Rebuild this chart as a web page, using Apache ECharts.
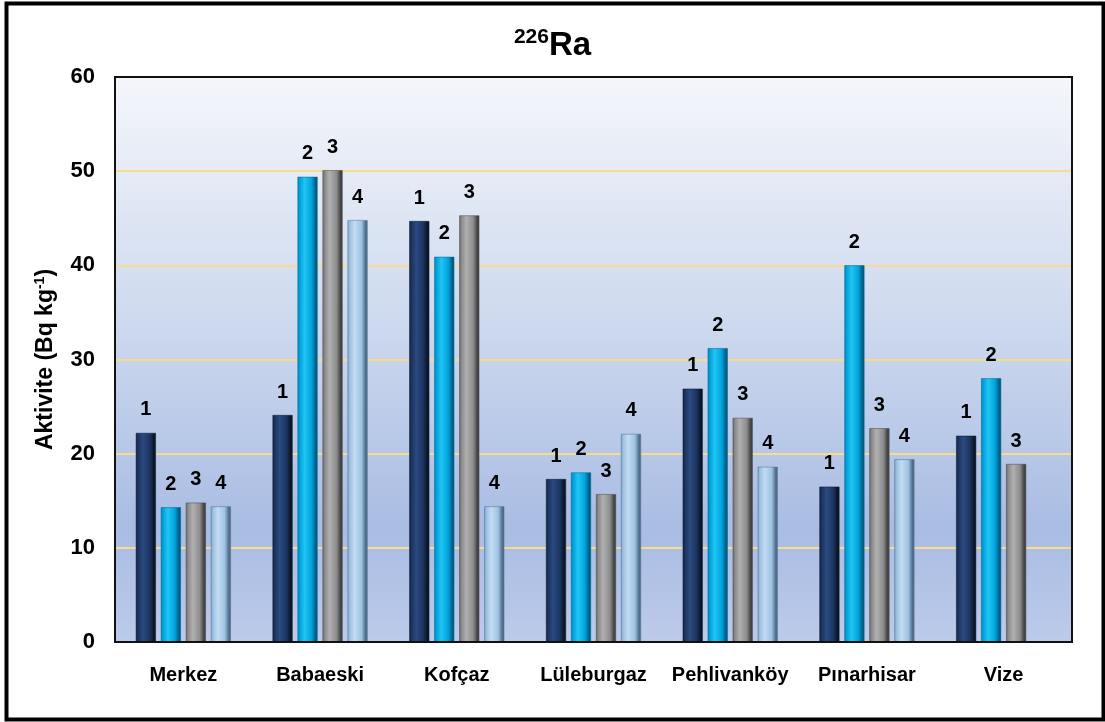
<!DOCTYPE html>
<html>
<head>
<meta charset="utf-8">
<script src="https://cdn.jsdelivr.net/npm/echarts@6/dist/echarts.min.js"></script>
<style>html,body{margin:0;padding:0;background:#fff}#c{width:1105px;height:722px}</style>
</head>
<body>
<div id="c"></div>
<script>
const categories = ['Merkez', 'Babaeski', 'Kofçaz', 'Lüleburgaz', 'Pehlivanköy', 'Pınarhisar', 'Vize'];
const s1 = [22.2, 24.1, 44.7, 17.3, 26.9, 16.5, 21.9];
const s2 = [14.3, 49.4, 40.9, 18.0, 31.2, 40.0, 28.0];
const s3 = [14.8, 50.1, 45.3, 15.7, 23.8, 22.7, 18.9];
const s4 = [14.4, 44.8, 14.4, 22.1, 18.6, 19.4, null];
const seriesNames = ['1', '2', '3', '4'];
const yTicks = [0, 10, 20, 30, 40, 50, 60];

const FONT = '"Liberation Sans", Arial, sans-serif';
const palettes = [
  ['#132544', '#2a4a80', '#1c3460', '#0b1628'],
  ['#0088c0', '#22c4f4', '#00a4dc', '#005f88'],
  ['#6a6a6a', '#b0b0b0', '#8c8c8c', '#444444'],
  ['#7fa4c8', '#c2dcf2', '#9ec2e2', '#4f6e8c']
];
function grad(p) {
  return new echarts.graphic.LinearGradient(0, 0, 1, 0, [
    {offset: 0, color: p[0]},
    {offset: 0.12, color: p[2]},
    {offset: 0.35, color: p[1]},
    {offset: 0.7, color: p[2]},
    {offset: 0.9, color: p[3]},
    {offset: 1, color: p[3]}
  ]);
}
const data = [s1, s2, s3, s4];
const series = data.map((d, i) => ({
  name: seriesNames[i],
  type: 'bar',
  data: d,
  barWidth: 20,
  barGap: '25%',
  itemStyle: {color: grad(palettes[i]), borderColor: palettes[i][3], borderWidth: 0.5},
  label: {
    show: true, position: 'top', distance: 13,
    formatter: seriesNames[i],
    fontFamily: FONT, fontWeight: 'bold', fontSize: 20, color: '#000'
  }
}));

const chart = echarts.init(document.getElementById('c'));
chart.setOption({
  animation: false,
  title: {
    text: '{s|226}{b|Ra}',
    left: 'center', top: 22,
    textStyle: {
      rich: {
        s: {fontFamily: FONT, fontWeight: 'bold', fontSize: 21, color: '#000', verticalAlign: 'top', padding: [0, 0, 14, 0]},
        b: {fontFamily: FONT, fontWeight: 'bold', fontSize: 33, color: '#000', verticalAlign: 'bottom'}
      }
    }
  },
  graphic: [
    {type: 'rect', left: 4, top: 1, shape: {width: 1097, height: 716}, style: {fill: 'none', stroke: '#000', lineWidth: 4}, z: 10},
    {type: 'rect', left: 115, top: 77, shape: {width: 957, height: 565},
      style: {fill: new echarts.graphic.LinearGradient(0, 0, 0, 1, [
        {offset: 0, color: '#f4f6fb'},
        {offset: 0.45, color: '#ccd8ee'},
        {offset: 0.8, color: '#a9bce3'},
        {offset: 1, color: '#bdcbea'}
      ])}, z: -10, silent: true},
    {type: 'rect', shape: {x: 115, y: 77, width: 957, height: 565},
      style: {fill: 'none', stroke: '#111', lineWidth: 2}, z: 5, silent: true}
  ],
  grid: {left: 115, top: 77, right: 33, bottom: 80, containLabel: false},
  xAxis: {
    type: 'category', data: categories,
    axisLine: {show: true, lineStyle: {color: '#000', width: 2}},
    axisTick: {show: false},
    axisLabel: {interval: 0, fontFamily: FONT, fontWeight: 'bold', fontSize: 20, color: '#000', margin: 23}
  },
  yAxis: {
    type: 'value', min: 0, max: 60, interval: 10,
    name: '{a|Aktivite (Bq kg}{s|-1}{a|)}',
    nameLocation: 'middle', nameRotate: 90, nameGap: 58,
    nameTextStyle: {
      rich: {
        a: {fontFamily: FONT, fontWeight: 'bold', fontSize: 23, color: '#000', verticalAlign: 'bottom'},
        s: {fontFamily: FONT, fontWeight: 'bold', fontSize: 14, color: '#000', verticalAlign: 'top', padding: [0, 0, 10, 0]}
      }
    },
    axisLine: {show: true, lineStyle: {color: '#000', width: 1.5}},
    axisTick: {show: false},
    axisLabel: {fontFamily: FONT, fontWeight: 'bold', fontSize: 22, color: '#000', margin: 20,
      formatter: v => yTicks.includes(v) ? String(v) : ''},
    splitLine: {show: true, lineStyle: {color: '#f8dc8c', width: 2}}
  },
  series: series
});
</script>
</body>
</html>
